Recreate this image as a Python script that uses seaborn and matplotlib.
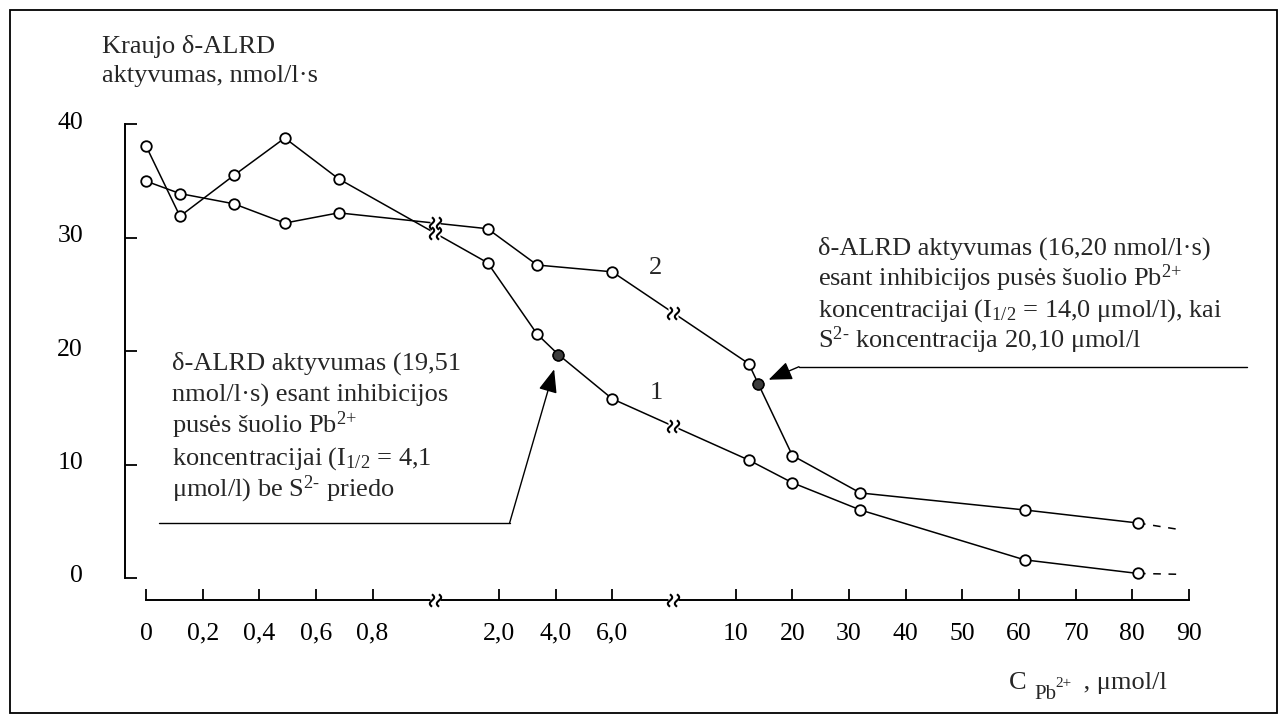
import numpy as np
import pandas as pd
import matplotlib
matplotlib.use("Agg")
import matplotlib.pyplot as plt
import matplotlib.transforms as mtransforms
import seaborn as sns
from matplotlib.lines import Line2D
from matplotlib.patches import Rectangle
from matplotlib.path import Path

# ---------------- data ----------------
curve1_conc = [0, 0.12, 0.31, 0.49, 0.68, 1.6, 3.35, 4.1, 6.0, 12.3, 20, 32, 61, 81]
curve1_act = [38.1, 31.9, 35.5, 38.8, 35.2, 27.8, 21.5, 19.7, 15.8, 10.4, 8.4, 6.0, 1.6, 0.4]
curve2_conc = [0, 0.12, 0.31, 0.49, 0.68, 1.6, 3.35, 6.0, 12.3, 14.0, 20, 32, 61, 81]
curve2_act = [35.0, 33.9, 33.0, 31.3, 32.2, 30.8, 27.6, 27.0, 18.9, 17.1, 10.8, 7.5, 6.0, 4.85]
half_conc = [4.1, 14.0]          # I1/2 points (filled)
half_act = [19.7, 17.1]
ext_conc = [81, 88]              # dashed continuation
ext_act1 = [0.4, 0.33]
ext_act2 = [4.85, 4.3]
xtick_values = [0, 0.2, 0.4, 0.6, 0.8, 2, 4, 6, 10, 20, 30, 40, 50, 60, 70, 80, 90]
xtick_labels = ["0", "0,2", "0,4", "0,6", "0,8", "2,0", "4,0", "6,0",
                "10", "20", "30", "40", "50", "60", "70", "80", "90"]
ytick_values = [0, 10, 20, 30, 40]
ytick_labels = ["0", "10", "20", "30", "40"]

# broken-axis layout (position units)
BREAKS = [5.10, 9.30]


def to_pos(c):
    c = np.asarray(c, dtype=float)
    return np.where(c <= 1.0, c / 0.2,
                    np.where(c <= 8.0, 6.23 + (c - 2.0) / 2.0,
                             10.41 + (c - 10.0) / 10.0))


# break-symbol marker: two small "s"-like waves
_t = np.linspace(-1, 1, 25)
_verts, _codes = [], []
for off in (-0.42, 0.42):
    xs = off + 0.26 * np.sin(np.pi * _t)
    for i, (xv, yv) in enumerate(zip(xs, 0.75 * _t)):
        _verts.append((xv, yv))
        _codes.append(Path.MOVETO if i == 0 else Path.LINETO)
BREAK_MARK = Path(_verts, _codes)

# ---------------- figure ----------------
sns.set_style("white")
plt.rcParams["font.family"] = ["Liberation Serif", "DejaVu Serif"]
plt.rcParams["mathtext.fontset"] = "custom"
plt.rcParams["mathtext.rm"] = "Liberation Serif"
plt.rcParams["mathtext.it"] = "Liberation Serif:italic"
plt.rcParams["mathtext.bf"] = "Liberation Serif:bold"

W, H = 1286, 722
fig = plt.figure(figsize=(W / 100, H / 100), dpi=100)
fig.patch.set_facecolor("white")


def fx(px):
    return px / W


def fy(py):
    return 1 - py / H


X0PX, XU = 146.0, 56.65
Y0PX, YU = 578.0, 11.34
xlim = (-0.5, 19.5)
ylim = (-3.0, 41.0)
left_px = X0PX + xlim[0] * XU
right_px = X0PX + xlim[1] * XU
top_px = Y0PX - ylim[1] * YU
bot_px = Y0PX - ylim[0] * YU
ax = fig.add_axes([left_px / W, 1 - bot_px / H, (right_px - left_px) / W, (bot_px - top_px) / H])
ax.set_xlim(*xlim)
ax.set_ylim(*ylim)
ax.patch.set_alpha(0)

df = pd.concat([
    pd.DataFrame({"pos": to_pos(curve1_conc), "act": curve1_act, "curve": "1"}),
    pd.DataFrame({"pos": to_pos(curve2_conc), "act": curve2_act, "curve": "2"}),
], ignore_index=True)

sns.lineplot(data=df, x="pos", y="act", hue="curve", palette={"1": "black", "2": "black"},
             sort=False, estimator=None, legend=False, ax=ax, linewidth=1.1,
             marker="o", markersize=7.6, markerfacecolor="white",
             markeredgecolor="black", markeredgewidth=1.3, zorder=3)

for ext in (ext_act1, ext_act2):
    ax.plot(to_pos(ext_conc), ext, color="black", lw=1.1, ls=(0, (5, 5)), zorder=2)

sns.scatterplot(x=to_pos(half_conc), y=half_act, color="#3c3c3c", edgecolor="black",
                linewidth=1.0, s=58, ax=ax, zorder=5, legend=False)

# break marks on curves and axis
XAXIS_VAL = -1.94
YAXIS_POS = -0.376
bx, by = [], []
for conc, act in ((curve1_conc, curve1_act), (curve2_conc, curve2_act)):
    p = to_pos(conc)
    for b in BREAKS:
        bx.append(b)
        by.append(np.interp(b, p, act))
for b in BREAKS:
    bx.append(b)
    by.append(XAXIS_VAL)
ax.plot(bx, by, ls="none", marker="s", markersize=6.5, markerfacecolor="white",
        markeredgecolor="none", zorder=6, clip_on=False)
ax.plot(bx, by, ls="none", marker=BREAK_MARK, markersize=9, markerfacecolor="none",
        markeredgecolor="black", markeredgewidth=1.5, zorder=7, clip_on=False)

# axes styling
for s in ("top", "right"):
    ax.spines[s].set_visible(False)
ax.spines["left"].set_position(("data", YAXIS_POS))
ax.spines["left"].set_bounds(0, 40)
ax.spines["bottom"].set_position(("data", XAXIS_VAL))
ax.spines["bottom"].set_bounds(0, float(to_pos(90)))
for s in ("left", "bottom"):
    ax.spines[s].set_linewidth(1.4)
    ax.spines[s].set_color("black")

ax.set_xticks(to_pos(xtick_values))
ax.set_xticklabels(xtick_labels)
ax.set_yticks(ytick_values)
ax.set_yticklabels(ytick_labels)
ax.tick_params(axis="x", direction="in", length=7.7, width=1.3, pad=16.5, labelsize=18.5,
               colors="black", bottom=True)
ax.tick_params(axis="y", direction="in", length=8.6, width=1.3, pad=30, labelsize=18.5,
               colors="black", left=True)
up = mtransforms.ScaledTranslation(0, 4 / 100, fig.dpi_scale_trans)
for lab in ax.get_yticklabels():
    lab.set_transform(lab.get_transform() + up)
ax.set_xlabel("")
ax.set_ylabel("")
ax.grid(False)

FS = 19
# axis titles
fig.text(fx(101.7), fy(53.3), "Kraujo δ-ALRD", fontsize=FS, va="baseline")
fig.text(fx(101.7), fy(81.7), "aktyvumas, nmol/l·s", fontsize=FS, va="baseline")
fig.text(fx(1009), fy(689), "C", fontsize=FS, va="baseline")
fig.text(fx(1034), fy(699), "Pb", fontsize=15, va="baseline")
fig.text(fx(1055), fy(687), "2+", fontsize=11, va="baseline")
fig.text(fx(1077), fy(689), " , μmol/l", fontsize=FS, va="baseline")

# curve labels
fig.text(fx(656), fy(393), "1", fontsize=FS, ha="center", va="center")
fig.text(fx(655), fy(268), "2", fontsize=FS, ha="center", va="center")

SUP_PLUS = r"$^{\mathregular{2}{\mathregular{+}}}$"
SUP_MINUS = r"$^{\mathregular{2" + "\u2010" + r"}}$"
# annotation 1
ann1 = ["δ-ALRD aktyvumas (19,51",
        "nmol/l·s) esant inhibicijos",
        "pusės šuolio Pb" + SUP_PLUS,
        r"koncentracijai (I$_{\mathregular{1/2}}$ = 4,1",
        "μmol/l) be S" + SUP_MINUS + " priedo"]
for i, line in enumerate(ann1):
    fig.text(fx(172), fy(370 + 31.5 * i), line, fontsize=FS, va="baseline")

# annotation 2
ann2 = ["δ-ALRD aktyvumas (16,20 nmol/l·s)",
        "esant inhibicijos pusės šuolio Pb" + SUP_PLUS,
        r"koncentracijai (I$_{\mathregular{1/2}}$ = 14,0 μmol/l), kai",
        "S" + SUP_MINUS + " koncentracija 20,10 μmol/l"]
for i, line in enumerate(ann2):
    fig.text(fx(818), fy(255 + 31 * i), line, fontsize=FS, va="baseline")

# leader lines with arrows
lead_col = "black"
fig.add_artist(Line2D([fx(159.3), fx(509.5)], [fy(523.3), fy(523.3)], color=lead_col, lw=1.0))
fig.add_artist(Line2D([fx(799), fx(1246.6)], [fy(366.7), fy(366.7)], color=lead_col, lw=1.0))
hp = to_pos(half_conc)
ax.annotate("", xy=(hp[0], half_act[0]), xycoords="data",
            xytext=(509.5, H - 523.3), textcoords="figure pixels",
            arrowprops=dict(arrowstyle="-|>,head_length=0.8,head_width=0.32", mutation_scale=18,
                            shrinkA=0, shrinkB=11, color=lead_col, lw=1.0))
ax.annotate("", xy=(hp[1], half_act[1]), xycoords="data",
            xytext=(799, H - 366.7), textcoords="figure pixels",
            arrowprops=dict(arrowstyle="-|>,head_length=0.8,head_width=0.32", mutation_scale=18,
                            shrinkA=0, shrinkB=8, color=lead_col, lw=1.0))

# outer frame
fig.add_artist(Rectangle((fx(10), fy(713)), (1277 - 10) / W, (713 - 10) / H,
                         transform=fig.transFigure, fill=False, ec="black", lw=1.3))

fig.savefig("out.png", dpi=100, facecolor="white")
